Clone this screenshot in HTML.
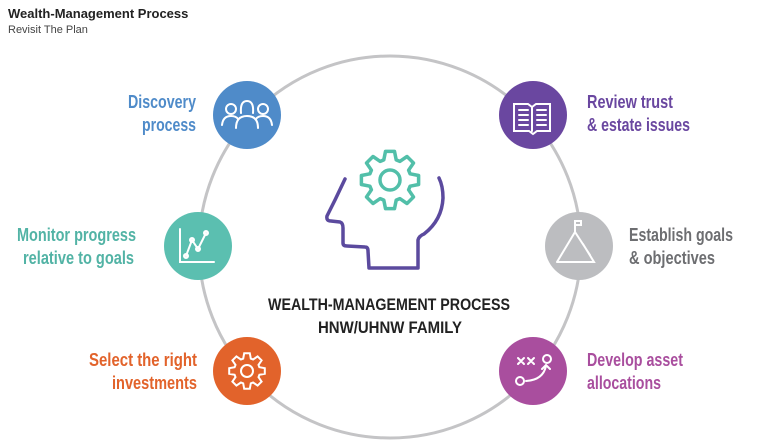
<!DOCTYPE html>
<html><head><meta charset="utf-8"><style>
body{margin:0;background:#fff;width:760px;height:447px;overflow:hidden;font-family:"Liberation Sans",sans-serif}
.t{position:absolute;left:8px;top:6px;font-size:13px;font-weight:bold;color:#222}
.s{position:absolute;left:8px;top:24px;font-size:11px;color:#444}
svg{position:absolute;left:0;top:0}
.l{font-family:"Liberation Sans",sans-serif;font-weight:bold;font-size:18px}
</style></head><body>
<div class="t">Wealth-Management Process</div>
<div class="s">Revisit The Plan</div>
<svg width="760" height="447" viewBox="0 0 760 447">
<circle cx="390" cy="247" r="191" fill="none" stroke="#c4c4c6" stroke-width="3"/>
<path d="M345 179 L335 200 L327 216 Q326 221 331 221 L340 222 Q343 223 343 228 L343 243 Q343 246 347 246 L365 247 Q368 247 368 251 L369 268 L418 268 L418 240 Q419 236 424 234 Q442 220 443 198 Q443 186 439 178" fill="none" stroke="#5b4a9e" stroke-width="3.5" stroke-linejoin="round" stroke-linecap="round"/>
<path id="g1" fill="none" stroke="#52bfa9" stroke-width="3.5" stroke-linejoin="round"/>
<circle cx="390" cy="180" r="10" fill="none" stroke="#52bfa9" stroke-width="3.5"/>
<circle cx="247" cy="115" r="34" fill="#4f8bc9"/>
<circle cx="533" cy="115" r="34" fill="#6a47a0"/>
<circle cx="198" cy="246" r="34" fill="#5bbfb0"/>
<circle cx="579" cy="246" r="34" fill="#bcbdc0"/>
<circle cx="247" cy="371" r="34" fill="#e2632b"/>
<circle cx="533" cy="371" r="34" fill="#a94e9e"/>
<g fill="none" stroke="#fff" stroke-width="2" stroke-linecap="round">
<circle cx="231" cy="109" r="5"/><circle cx="263" cy="109" r="5"/>
<path d="M222 125 Q223 116 231 116 Q236 116 238 119 M272 125 Q271 116 263 116 Q258 116 256 119"/>
<path d="M241 113 Q240 101 247 101 Q254 101 253 113 M236 128 Q236 116 247 116 Q258 116 258 128"/>
<path d="M514 104 L528 104 L532 107 L536 104 L550 104 L550 131 L537 131 L533 134 L529 131 L514 131 Z M532 107 L532 131"/>
<path d="M519 110 H528 M519 115 H528 M519 120 H528 M519 125 H528 M537 110 H546 M537 115 H546 M537 120 H546 M537 125 H546"/>
<path d="M180 229 V262 H214 M186 256 L192 240 L198 249 L206 233"/>
<circle cx="192" cy="240" r="2"/><circle cx="198" cy="249" r="2"/><circle cx="206" cy="233" r="2"/><circle cx="186" cy="256" r="2"/>
<path d="M557 262 L575 232 L590 255 M583 244 L594 262 L557 262 M575 232 V221 H581 V225 H575"/>
<path id="g2"/>
<circle cx="247" cy="371" r="6"/>
<path d="M518 358 L524 364 M524 358 L518 364 M528 358 L534 364 M534 358 L528 364"/>
<circle cx="547" cy="359" r="4"/><circle cx="520" cy="381" r="4"/>
<path d="M526 381 Q543 380 546 366 M542 369 L546 365 L550 369"/>
</g>
<g class="l">
<text x="128" y="108" textLength="68" lengthAdjust="spacingAndGlyphs" fill="#4f8bc9">Discovery</text>
<text x="142" y="131" textLength="54" lengthAdjust="spacingAndGlyphs" fill="#4f8bc9">process</text>
<text x="587" y="108" textLength="86" lengthAdjust="spacingAndGlyphs" fill="#6a47a0">Review trust</text>
<text x="587" y="131" textLength="103" lengthAdjust="spacingAndGlyphs" fill="#6a47a0">&amp; estate issues</text>
<text x="17" y="241" textLength="119" lengthAdjust="spacingAndGlyphs" fill="#52b3a5">Monitor progress</text>
<text x="23" y="264" textLength="111" lengthAdjust="spacingAndGlyphs" fill="#52b3a5">relative to goals</text>
<text x="629" y="241" textLength="104" lengthAdjust="spacingAndGlyphs" fill="#6d6e71">Establish goals</text>
<text x="629" y="264" textLength="86" lengthAdjust="spacingAndGlyphs" fill="#6d6e71">&amp; objectives</text>
<text x="89" y="366" textLength="108" lengthAdjust="spacingAndGlyphs" fill="#e2632b">Select the right</text>
<text x="112" y="389" textLength="85" lengthAdjust="spacingAndGlyphs" fill="#e2632b">investments</text>
<text x="587" y="366" textLength="96" lengthAdjust="spacingAndGlyphs" fill="#a94e9e">Develop asset</text>
<text x="587" y="389" textLength="74" lengthAdjust="spacingAndGlyphs" fill="#a94e9e">allocations</text>
<text x="268" y="310" textLength="242" lengthAdjust="spacingAndGlyphs" fill="#222" font-size="17">WEALTH-MANAGEMENT PROCESS</text>
<text x="318" y="333" textLength="144" lengthAdjust="spacingAndGlyphs" fill="#222" font-size="17">HNW/UHNW FAMILY</text>
</g>
</svg>
<script>
function gear(cx,cy,ro,ri,n){var d="",a=Math.PI*2/n;for(var i=0;i<n;i++){var t=i*a;var p=[[ri,t-a*0.38],[ro,t-a*0.2],[ro,t+a*0.2],[ri,t+a*0.38]];p.forEach(function(q,j){d+=(i==0&&j==0?"M":"L")+(cx+q[0]*Math.cos(q[1])).toFixed(1)+" "+(cy+q[0]*Math.sin(q[1])).toFixed(1)+" ";});}return d+"Z";}
document.getElementById("g1").setAttribute("d",gear(390,180,29,21,8));
document.getElementById("g2").setAttribute("d",gear(247,371,18,13,8));
</script>
</body></html>
